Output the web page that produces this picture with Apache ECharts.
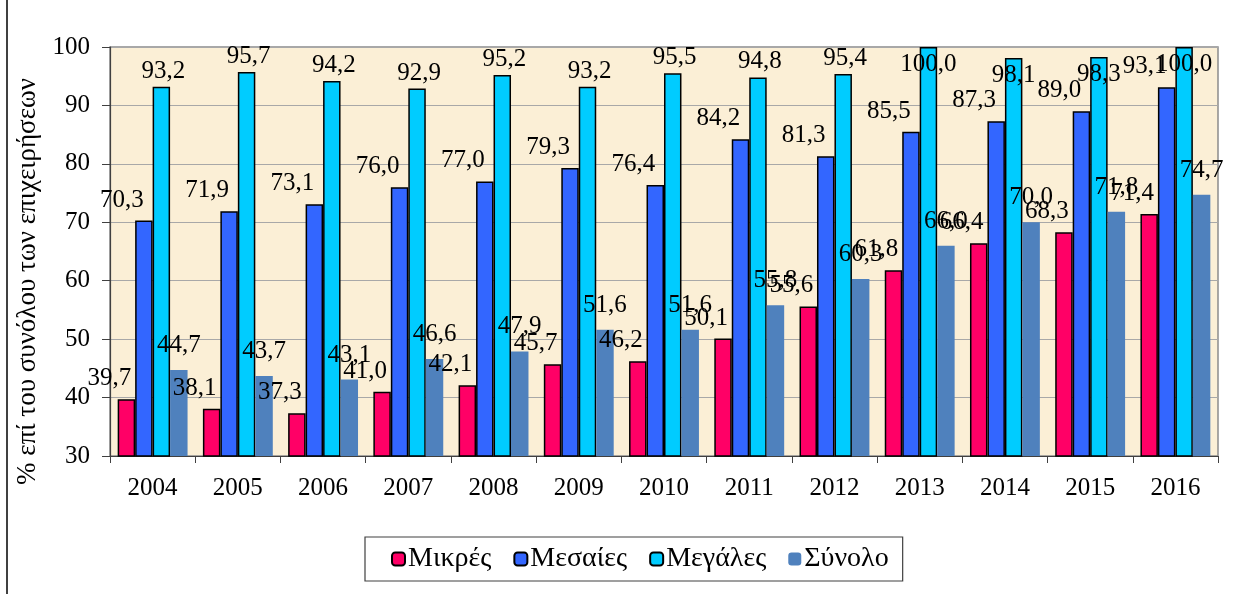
<!DOCTYPE html>
<html>
<head>
<meta charset="utf-8">
<script src="https://cdn.jsdelivr.net/npm/echarts@6/dist/echarts.min.js"></script>
<style>
html,body{margin:0;padding:0;background:#fff;}
#c{width:1246px;height:594px;}
</style>
</head>
<body>
<div id="c"></div>
<script>
const years = ['2004','2005','2006','2007','2008','2009','2010','2011','2012','2013','2014','2015','2016'];
const mikres   = [39.7, 38.1, 37.3, 41.0, 42.1, 45.7, 46.2, 50.1, 55.6, 61.8, 66.4, 68.3, 71.4];
const mesaies  = [70.3, 71.9, 73.1, 76.0, 77.0, 79.3, 76.4, 84.2, 81.3, 85.5, 87.3, 89.0, 93.1];
const megales  = [93.2, 95.7, 94.2, 92.9, 95.2, 93.2, 95.5, 94.8, 95.4, 100.0, 98.1, 98.3, 100.0];
const synolo   = [44.7, 43.7, 43.1, 46.6, 47.9, 51.6, 51.6, 55.8, 60.3, 66.0, 70.0, 71.8, 74.7];
const seriesNames = ['Μικρές', 'Μεσαίες', 'Μεγάλες', 'Σύνολο'];
const yTicks = [30, 40, 50, 60, 70, 80, 90, 100];
const yAxisName = '% επί του συνόλου των επιχειρήσεων';

const FONT = "'Liberation Serif', 'DejaVu Serif', serif";
const fmt = p => Number(p.value).toFixed(1).replace('.', ',');

function labelCfg(offset) {
  return {show: true, position: 'top', distance: 5, offset: offset,
          formatter: fmt, color: '#000', fontFamily: FONT, fontSize: 25};
}

const chart = echarts.init(document.getElementById('c'));
chart.setOption({
  animation: false,
  backgroundColor: '#ffffff',
  grid: {left: 110, right: 28, top: 47, bottom: 138, show: true,
         backgroundColor: '#FBEFD6', borderColor: '#8C8C8C', borderWidth: 1.5},
  legend: {
    data: seriesNames, left: 365, top: 537,
    padding: [8, 14, 8, 26], itemGap: 22, itemWidth: 13, itemHeight: 13,
    borderColor: '#404040', borderWidth: 1.2, backgroundColor: '#fff',
    textStyle: {fontFamily: FONT, fontSize: 28, color: '#000', padding: [0,0,0,-2]}
  },
  xAxis: {
    type: 'category', data: years,
    axisLine: {lineStyle: {color: '#404040', width: 1.2}},
    axisTick: {show: true, alignWithLabel: false, length: 7, lineStyle: {color: '#404040'}},
    axisLabel: {fontFamily: FONT, fontSize: 25, color: '#000', margin: 20}
  },
  yAxis: {
    type: 'value', min: yTicks[0], max: yTicks[yTicks.length - 1], interval: 10,
    name: yAxisName, nameLocation: 'middle', nameGap: 62, nameRotate: 90,
    nameTextStyle: {fontFamily: FONT, fontSize: 27, color: '#000', padding: [0, 60, 0, 0]},
    axisLine: {show: true, lineStyle: {color: '#404040', width: 1.2}},
    axisTick: {show: true, inside: false, length: 8, lineStyle: {color: '#404040'}},
    axisLabel: {fontFamily: FONT, fontSize: 25, color: '#000', margin: 20},
    splitLine: {lineStyle: {color: '#A8A8A8', width: 1.2}}
  },
  graphic: [{type: 'line', shape: {x1: 7, y1: 0, x2: 7, y2: 594}, style: {stroke: '#000', lineWidth: 1.5}}],
  series: [
    {name: seriesNames[0], type: 'bar', data: mikres, barGap: '0%', barCategoryGap: '18%',
     itemStyle: {color: '#FF0066', borderColor: '#000', borderWidth: 1.5},
     label: labelCfg([-17, -3])},
    {name: seriesNames[1], type: 'bar', data: mesaies, barGap: '0%', barCategoryGap: '18%',
     itemStyle: {color: '#3366FF', borderColor: '#000', borderWidth: 1.5},
     label: labelCfg([-22, -3])},
    {name: seriesNames[2], type: 'bar', barGap: '0%', barCategoryGap: '18%',
     data: megales.map(v => v >= 97 ? {value: v, label: {position: 'insideTop', offset: [0, 0]}} : v),
     itemStyle: {color: '#00CCFF', borderColor: '#000', borderWidth: 1.5},
     label: labelCfg([2, 2])},
    {name: seriesNames[3], type: 'bar', data: synolo, barGap: '0%', barCategoryGap: '18%',
     itemStyle: {color: '#4F81BD'},
     label: labelCfg([0, -7])}
  ]
});
</script>
</body>
</html>
